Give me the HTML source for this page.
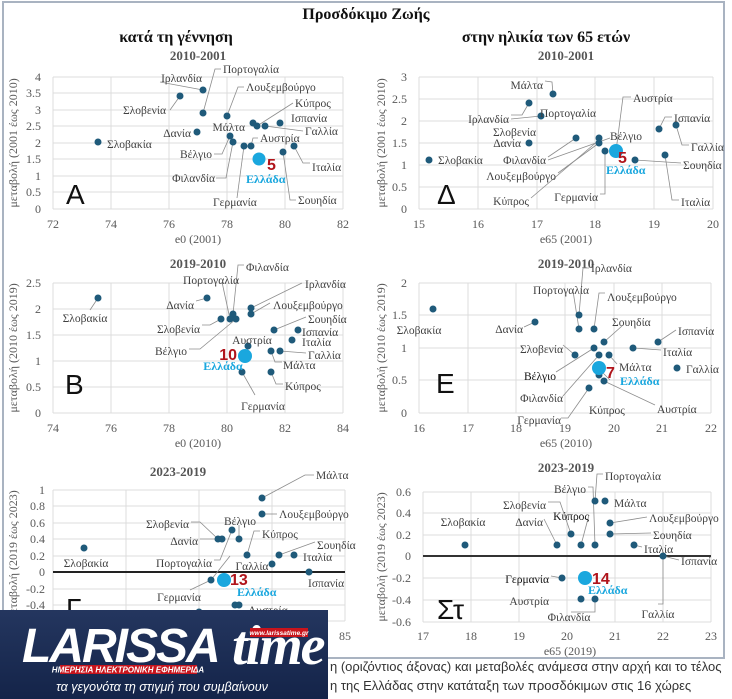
<!DOCTYPE html>
<html><head><meta charset="utf-8">
<style>
html,body{margin:0;padding:0;background:#fff;}
svg{display:block;}
.t{font-family:"Liberation Serif",serif;font-size:11.5px;fill:#404040;}
.k{font-family:"Liberation Serif",serif;font-size:12px;fill:#595959;}
.h{font-family:"Liberation Serif",serif;font-weight:bold;fill:#111;}
.st{font-family:"Liberation Serif",serif;font-weight:bold;font-size:13px;fill:#555;}
.g{stroke:#dcdcdc;stroke-width:1;}
.d{fill:#1f5a7a;}
.gr{fill:#1aa7de;}
.n{font-family:"Liberation Sans",sans-serif;font-weight:bold;font-size:16px;fill:#b0141b;}
.el{font-family:"Liberation Serif",serif;font-weight:bold;font-size:12px;fill:#1aa7de;}
.big{font-family:"Liberation Sans",sans-serif;font-size:28px;fill:#111;}
.l{stroke:#8c8c8c;stroke-width:0.8;fill:none;}
.cap{font-family:"Liberation Sans",sans-serif;font-size:13px;fill:#333;}
</style></head><body>
<svg width="732" height="699" viewBox="0 0 732 699" xmlns="http://www.w3.org/2000/svg">
<rect x="3" y="2" width="721" height="656" fill="#fff" stroke="#a9b3c1" stroke-width="2"/>
<text x="366" y="19" text-anchor="middle" class="h" font-size="16">Προσδόκιμο Ζωής</text>
<text x="176" y="42" text-anchor="middle" class="h" font-size="16">κατά τη γέννηση</text>
<text x="546" y="42" text-anchor="middle" class="h" font-size="16">στην ηλικία των 65 ετών</text>

<!-- ===== Panel A ===== -->
<text x="198" y="60" text-anchor="middle" class="st">2010-2001</text>
<g class="g">
<line x1="53" y1="77" x2="343" y2="77"/><line x1="53" y1="93" x2="343" y2="93"/><line x1="53" y1="110" x2="343" y2="110"/><line x1="53" y1="126" x2="343" y2="126"/><line x1="53" y1="143" x2="343" y2="143"/><line x1="53" y1="159" x2="343" y2="159"/><line x1="53" y1="176" x2="343" y2="176"/><line x1="53" y1="192" x2="343" y2="192"/><line x1="53" y1="209" x2="343" y2="209"/>
<line x1="53" y1="77" x2="53" y2="209"/><line x1="111" y1="77" x2="111" y2="209"/><line x1="169" y1="77" x2="169" y2="209"/><line x1="227" y1="77" x2="227" y2="209"/><line x1="285" y1="77" x2="285" y2="209"/><line x1="343" y1="77" x2="343" y2="209"/>
</g>
<g class="k" text-anchor="end"><text x="41" y="81">4</text><text x="41" y="97">3.5</text><text x="41" y="114">3</text><text x="41" y="130">2.5</text><text x="41" y="147">2</text><text x="41" y="163">1.5</text><text x="41" y="180">1</text><text x="41" y="196">0.5</text><text x="41" y="213">0</text></g>
<g class="k" text-anchor="middle"><text x="53" y="228">72</text><text x="111" y="228">74</text><text x="169" y="228">76</text><text x="227" y="228">78</text><text x="285" y="228">80</text><text x="343" y="228">82</text></g>
<text x="198" y="243" text-anchor="middle" class="k">e0 (2001)</text>
<text transform="translate(17,143) rotate(-90)" text-anchor="middle" class="k" font-size="11">μεταβολή (2001 έως 2010)</text>
<g class="l"><path d="M170 110 L180 96"/><path d="M160 82 L203 90"/><path d="M221 69 L215 69 L203 113"/><path d="M244 87 L238 87 L227 116"/><path d="M293 103 L257 126"/><path d="M303 131 L265 126"/><path d="M214 154 L222 154 L230 136"/><path d="M216 178 L226 178 L233 142"/><path d="M237 198 L244 146"/><path d="M258 138 L253 138 L251 146"/><path d="M310 163 L303 163 L294 146"/><path d="M296 200 L290 200 L283 152"/></g>
<g class="d"><circle cx="98" cy="142" r="3.5"/><circle cx="180" cy="96" r="3.5"/><circle cx="203" cy="90" r="3.5"/><circle cx="203" cy="113" r="3.5"/><circle cx="197" cy="132" r="3.5"/><circle cx="227" cy="116" r="3.5"/><circle cx="253" cy="123" r="3.5"/><circle cx="257" cy="126" r="3.5"/><circle cx="280" cy="123" r="3.5"/><circle cx="265" cy="126" r="3.5"/><circle cx="230" cy="136" r="3.5"/><circle cx="233" cy="142" r="3.5"/><circle cx="244" cy="146" r="3.5"/><circle cx="251" cy="146" r="3.5"/><circle cx="294" cy="146" r="3.5"/><circle cx="283" cy="152" r="3.5"/></g>
<circle cx="259" cy="159" r="6.5" class="gr"/>
<g class="t"><text x="107" y="148">Σλοβακία</text><text x="202" y="82" text-anchor="end">Ιρλανδία</text><text x="223" y="73">Πορτογαλία</text><text x="246" y="91">Λουξεμβούργο</text><text x="295" y="107">Κύπρος</text><text x="291" y="122">Ισπανία</text><text x="305" y="135">Γαλλία</text><text x="245" y="131" text-anchor="end">Μάλτα</text><text x="166" y="114" text-anchor="end">Σλοβενία</text><text x="191" y="137" text-anchor="end">Δανία</text><text x="260" y="142">Αυστρία</text><text x="212" y="158" text-anchor="end">Βέλγιο</text><text x="312" y="171">Ιταλία</text><text x="215" y="182" text-anchor="end">Φιλανδία</text><text x="213" y="206">Γερμανία</text><text x="298" y="204">Σουηδία</text></g>
<text x="267" y="170" class="n">5</text><text x="246" y="183" class="el">Ελλάδα</text>
<text x="66" y="204" class="big">A</text>

<!-- ===== Panel Δ ===== -->
<text x="566" y="60" text-anchor="middle" class="st">2010-2001</text>
<g class="g">
<line x1="419" y1="77" x2="713" y2="77"/><line x1="419" y1="99" x2="713" y2="99"/><line x1="419" y1="121" x2="713" y2="121"/><line x1="419" y1="143" x2="713" y2="143"/><line x1="419" y1="165" x2="713" y2="165"/><line x1="419" y1="187" x2="713" y2="187"/><line x1="419" y1="209" x2="713" y2="209"/>
<line x1="419" y1="77" x2="419" y2="209"/><line x1="478" y1="77" x2="478" y2="209"/><line x1="537" y1="77" x2="537" y2="209"/><line x1="595" y1="77" x2="595" y2="209"/><line x1="654" y1="77" x2="654" y2="209"/><line x1="713" y1="77" x2="713" y2="209"/>
</g>
<g class="k" text-anchor="end"><text x="407" y="81">3</text><text x="407" y="103">2.5</text><text x="407" y="125">2</text><text x="407" y="147">1.5</text><text x="407" y="169">1</text><text x="407" y="191">0.5</text><text x="407" y="213">0</text></g>
<g class="k" text-anchor="middle"><text x="419" y="228">15</text><text x="478" y="228">16</text><text x="537" y="228">17</text><text x="595" y="228">18</text><text x="654" y="228">19</text><text x="713" y="228">20</text></g>
<text x="566" y="243" text-anchor="middle" class="k">e65 (2001)</text>
<text transform="translate(385,143) rotate(-90)" text-anchor="middle" class="k" font-size="11">μεταβολή (2001 έως 2010)</text>
<g class="l"><path d="M545 81 L552 82 L553 94"/><path d="M511 115 L522 115 L529 103"/><path d="M511 119 L541 116"/><path d="M631 97 L623 97 L616 151"/><path d="M548 157 L576 138"/><path d="M548 160 L610 138"/><path d="M558 173 L599 143"/><path d="M531 198 L599 140"/><path d="M600 194 L605 194 L605 151"/><path d="M672 117 L665 117 L659 129"/><path d="M689 145 L682 145 L676 125"/><path d="M681 163 L635 160"/><path d="M679 200 L672 200 L665 155"/></g>
<g class="d"><circle cx="429" cy="160" r="3.5"/><circle cx="529" cy="103" r="3.5"/><circle cx="541" cy="116" r="3.5"/><circle cx="553" cy="94" r="3.5"/><circle cx="529" cy="143" r="3.5"/><circle cx="576" cy="138" r="3.5"/><circle cx="599" cy="138" r="3.5"/><circle cx="599" cy="143" r="3.5"/><circle cx="605" cy="151" r="3.5"/><circle cx="635" cy="160" r="3.5"/><circle cx="659" cy="129" r="3.5"/><circle cx="676" cy="125" r="3.5"/><circle cx="665" cy="155" r="3.5"/></g>
<circle cx="616" cy="151" r="7" class="gr"/>
<g class="t"><text x="543" y="89" text-anchor="end">Μάλτα</text><text x="633" y="102">Αυστρία</text><text x="568" y="117" text-anchor="middle">Πορτογαλία</text><text x="509" y="123" text-anchor="end">Ιρλανδία</text><text x="674" y="122">Ισπανία</text><text x="536" y="136" text-anchor="end">Σλοβενία</text><text x="521" y="147" text-anchor="end">Δανία</text><text x="610" y="140">Βέλγιο</text><text x="691" y="151">Γαλλία</text><text x="438" y="164">Σλοβακία</text><text x="546" y="164" text-anchor="end">Φιλανδία</text><text x="683" y="169">Σουηδία</text><text x="556" y="180" text-anchor="end">Λουξεμβούργο</text><text x="598" y="201" text-anchor="end">Γερμανία</text><text x="529" y="205" text-anchor="end">Κύπρος</text><text x="681" y="206">Ιταλία</text></g>
<text x="618" y="163" class="n">5</text><text x="606" y="174" class="el">Ελλάδα</text>
<text x="437" y="204" class="big">Δ</text>

<!-- ===== Panel B ===== -->
<text x="198" y="268" text-anchor="middle" class="st">2019-2010</text>
<g class="g">
<line x1="53" y1="283" x2="343" y2="283"/><line x1="53" y1="309" x2="343" y2="309"/><line x1="53" y1="335" x2="343" y2="335"/><line x1="53" y1="361" x2="343" y2="361"/><line x1="53" y1="387" x2="343" y2="387"/><line x1="53" y1="413" x2="343" y2="413"/>
<line x1="53" y1="283" x2="53" y2="413"/><line x1="111" y1="283" x2="111" y2="413"/><line x1="169" y1="283" x2="169" y2="413"/><line x1="227" y1="283" x2="227" y2="413"/><line x1="285" y1="283" x2="285" y2="413"/><line x1="343" y1="283" x2="343" y2="413"/>
</g>
<g class="k" text-anchor="end"><text x="41" y="287">2.5</text><text x="41" y="313">2</text><text x="41" y="339">1.5</text><text x="41" y="365">1</text><text x="41" y="391">0.5</text><text x="41" y="417">0</text></g>
<g class="k" text-anchor="middle"><text x="53" y="432">74</text><text x="111" y="432">76</text><text x="169" y="432">78</text><text x="227" y="432">80</text><text x="285" y="432">82</text><text x="343" y="432">84</text></g>
<text x="198" y="447" text-anchor="middle" class="k">e0 (2010)</text>
<text transform="translate(17,348) rotate(-90)" text-anchor="middle" class="k" font-size="11">μεταβολή (2010 έως 2019)</text>
<g class="l"><path d="M90 310 L98 298"/><path d="M196 301 L207 298"/><path d="M244 265 L238 265 L233 314"/><path d="M222 282 L230 319"/><path d="M302 283 L251 308"/><path d="M270 303 L251 314"/><path d="M306 317 L274 330"/><path d="M202 325 L210 325 L221 319"/><path d="M189 349 L200 349 L236 319"/><path d="M306 353 L280 351"/><path d="M282 362 L275 362 L271 351"/><path d="M283 384 L276 384 L271 372"/><path d="M255 395 L242 372"/></g>
<g class="d"><circle cx="98" cy="298" r="3.5"/><circle cx="207" cy="298" r="3.5"/><circle cx="221" cy="319" r="3.5"/><circle cx="230" cy="319" r="3.5"/><circle cx="233" cy="314" r="3.5"/><circle cx="236" cy="319" r="3.5"/><circle cx="251" cy="308" r="3.5"/><circle cx="251" cy="314" r="3.5"/><circle cx="274" cy="330" r="3.5"/><circle cx="298" cy="330" r="3.5"/><circle cx="292" cy="340" r="3.5"/><circle cx="248" cy="346" r="3.5"/><circle cx="271" cy="351" r="3.5"/><circle cx="280" cy="351" r="3.5"/><circle cx="242" cy="372" r="3.5"/><circle cx="271" cy="372" r="3.5"/></g>
<circle cx="245" cy="356" r="7" class="gr"/>
<g class="t"><text x="246" y="271">Φιλανδία</text><text x="211" y="284" text-anchor="middle">Πορτογαλία</text><text x="305" y="288">Ιρλανδία</text><text x="194" y="309" text-anchor="end">Δανία</text><text x="85" y="322" text-anchor="middle">Σλοβακία</text><text x="273" y="309">Λουξεμβούργο</text><text x="308" y="323">Σουηδία</text><text x="200" y="333" text-anchor="end">Σλοβενία</text><text x="302" y="336">Ισπανία</text><text x="302" y="346">Ιταλία</text><text x="252" y="344" text-anchor="middle">Αυστρία</text><text x="187" y="355" text-anchor="end">Βέλγιο</text><text x="308" y="359">Γαλλία</text><text x="283" y="369">Μάλτα</text><text x="285" y="390">Κύπρος</text><text x="263" y="410" text-anchor="middle">Γερμανία</text></g>
<text x="237" y="360" class="n" text-anchor="end">10</text><text x="223" y="370" class="el" text-anchor="middle">Ελλάδα</text>
<text x="65" y="394" class="big">B</text>

<!-- ===== Panel E ===== -->
<text x="566" y="268" text-anchor="middle" class="st">2019-2010</text>
<g class="g">
<line x1="419" y1="283" x2="711" y2="283"/><line x1="419" y1="315" x2="711" y2="315"/><line x1="419" y1="348" x2="711" y2="348"/><line x1="419" y1="380" x2="711" y2="380"/><line x1="419" y1="413" x2="711" y2="413"/>
<line x1="419" y1="283" x2="419" y2="413"/><line x1="468" y1="283" x2="468" y2="413"/><line x1="516" y1="283" x2="516" y2="413"/><line x1="565" y1="283" x2="565" y2="413"/><line x1="614" y1="283" x2="614" y2="413"/><line x1="662" y1="283" x2="662" y2="413"/><line x1="711" y1="283" x2="711" y2="413"/>
</g>
<g class="k" text-anchor="end"><text x="407" y="287">2</text><text x="407" y="319">1.5</text><text x="407" y="352">1</text><text x="407" y="384">0.5</text><text x="407" y="417">0</text></g>
<g class="k" text-anchor="middle"><text x="419" y="432">16</text><text x="468" y="432">17</text><text x="516" y="432">18</text><text x="565" y="432">19</text><text x="614" y="432">20</text><text x="662" y="432">21</text><text x="711" y="432">22</text></g>
<text x="566" y="447" text-anchor="middle" class="k">e65 (2010)</text>
<text transform="translate(385,348) rotate(-90)" text-anchor="middle" class="k" font-size="11">μεταβολή (2010 έως 2019)</text>
<g class="l"><path d="M589 268 L583 268 L579 315"/><path d="M573 291 L579 329"/><path d="M605 293 L599 293 L594 329"/><path d="M622 326 L604 342"/><path d="M524 327 L535 322"/><path d="M676 330 L658 342"/><path d="M563 345 L575 355"/><path d="M661 350 L633 348"/><path d="M617 364 L609 355"/><path d="M556 372 L594 348"/><path d="M563 396 L599 355"/><path d="M655 405 L604 381"/><path d="M561 418 L568 418 L589 388"/><path d="M601 371 L610 380"/></g>
<g class="d"><circle cx="433" cy="309" r="3.5"/><circle cx="535" cy="322" r="3.5"/><circle cx="579" cy="315" r="3.5"/><circle cx="579" cy="329" r="3.5"/><circle cx="594" cy="329" r="3.5"/><circle cx="604" cy="342" r="3.5"/><circle cx="658" cy="342" r="3.5"/><circle cx="575" cy="355" r="3.5"/><circle cx="594" cy="348" r="3.5"/><circle cx="599" cy="355" r="3.5"/><circle cx="609" cy="355" r="3.5"/><circle cx="633" cy="348" r="3.5"/><circle cx="677" cy="368" r="3.5"/><circle cx="599" cy="375" r="3.5"/><circle cx="604" cy="381" r="3.5"/><circle cx="589" cy="388" r="3.5"/></g>
<circle cx="599" cy="368" r="7" class="gr"/>
<g class="t"><text x="591" y="272">Ιρλανδία</text><text x="589" y="294" text-anchor="end">Πορτογαλία</text><text x="607" y="301">Λουξεμβούργο</text><text x="612" y="326">Σουηδία</text><text x="419" y="334" text-anchor="middle">Σλοβακία</text><text x="523" y="333" text-anchor="end">Δανία</text><text x="678" y="335">Ισπανία</text><text x="563" y="353" text-anchor="end">Σλοβενία</text><text x="663" y="356">Ιταλία</text><text x="619" y="371">Μάλτα</text><text x="686" y="373">Γαλλία</text><text x="556" y="380" text-anchor="end" fill="#111">Βέλγιο</text><text x="563" y="402" text-anchor="end">Φιλανδία</text><text x="657" y="413">Αυστρία</text><text x="589" y="414">Κύπρος</text><text x="561" y="424" text-anchor="end">Γερμανία</text></g>
<text x="606" y="378" class="n">7</text><text x="620" y="385" class="el">Ελλάδα</text>
<text x="436" y="393" class="big">E</text>

<!-- ===== Panel Γ ===== -->
<text x="178" y="476" text-anchor="middle" class="st">2023-2019</text>
<g class="g">
<line x1="53" y1="490" x2="345" y2="490"/><line x1="53" y1="506" x2="345" y2="506"/><line x1="53" y1="523" x2="345" y2="523"/><line x1="53" y1="539" x2="345" y2="539"/><line x1="53" y1="556" x2="345" y2="556"/><line x1="53" y1="589" x2="345" y2="589"/><line x1="53" y1="605" x2="345" y2="605"/><line x1="53" y1="621" x2="345" y2="621"/>
<line x1="53" y1="490" x2="53" y2="621"/><line x1="126" y1="490" x2="126" y2="621"/><line x1="199" y1="490" x2="199" y2="621"/><line x1="272" y1="490" x2="272" y2="621"/><line x1="345" y1="490" x2="345" y2="621"/>
</g>
<line x1="53" y1="572" x2="345" y2="572" stroke="#222" stroke-width="2"/>
<g class="k" text-anchor="end"><text x="45" y="494">1</text><text x="45" y="510">0.8</text><text x="45" y="527">0.6</text><text x="45" y="543">0.4</text><text x="45" y="560">0.2</text><text x="45" y="576">0</text><text x="45" y="593">-0.2</text><text x="45" y="609">-0.4</text></g>
<text x="345" y="640" text-anchor="middle" class="k">85</text>
<text transform="translate(17,555) rotate(-90)" text-anchor="middle" class="k" font-size="11">μεταβολή (2019 έως 2023)</text>
<g class="l"><path d="M314 475 L305 475 L262 498"/><path d="M277 514 L262 514"/><path d="M191 522 L200 522 L218 539"/><path d="M239 525 L239 539"/><path d="M260 531 L254 531 L247 555"/><path d="M315 542 L279 555"/><path d="M200 539 L218 539"/><path d="M214 560 L220 560 L232 530"/><path d="M230 556 L211 580"/><path d="M190 590 L211 580"/></g>
<g class="d"><circle cx="84" cy="548" r="3.5"/><circle cx="262" cy="498" r="3.5"/><circle cx="262" cy="514" r="3.5"/><circle cx="232" cy="530" r="3.5"/><circle cx="218" cy="539" r="3.5"/><circle cx="222" cy="539" r="3.5"/><circle cx="239" cy="539" r="3.5"/><circle cx="247" cy="555" r="3.5"/><circle cx="272" cy="564" r="3.5"/><circle cx="279" cy="555" r="3.5"/><circle cx="294" cy="555" r="3.5"/><circle cx="309" cy="572" r="3.5"/><circle cx="211" cy="580" r="3.5"/><circle cx="235" cy="605" r="3.5"/><circle cx="239" cy="605" r="3.5"/><circle cx="199" cy="612" r="3.5"/></g>
<circle cx="224" cy="580" r="7" class="gr"/>
<g class="t"><text x="316" y="479">Μάλτα</text><text x="279" y="518">Λουξεμβούργο</text><text x="189" y="528" text-anchor="end">Σλοβενία</text><text x="240" y="525" text-anchor="middle">Βέλγιο</text><text x="262" y="538">Κύπρος</text><text x="317" y="549">Σουηδία</text><text x="198" y="545" text-anchor="end">Δανία</text><text x="303" y="561">Ιταλία</text><text x="86" y="567" text-anchor="middle">Σλοβακία</text><text x="212" y="567" text-anchor="end">Πορτογαλία</text><text x="252" y="570" text-anchor="middle">Γαλλία</text><text x="308" y="587">Ισπανία</text><text x="179" y="601" text-anchor="middle">Γερμανία</text><text x="248" y="614">Αυστρία</text></g>
<text x="230" y="585" class="n">13</text><text x="237" y="596" class="el">Ελλάδα</text>
<text x="66" y="618" class="big">Γ</text>

<!-- ===== Panel ΣΤ ===== -->
<text x="566" y="472" text-anchor="middle" class="st">2023-2019</text>
<g class="g">
<line x1="423" y1="492" x2="711" y2="492"/><line x1="423" y1="513" x2="711" y2="513"/><line x1="423" y1="535" x2="711" y2="535"/><line x1="423" y1="578" x2="711" y2="578"/><line x1="423" y1="600" x2="711" y2="600"/><line x1="423" y1="622" x2="711" y2="622"/>
<line x1="423" y1="492" x2="423" y2="622"/><line x1="471" y1="492" x2="471" y2="622"/><line x1="519" y1="492" x2="519" y2="622"/><line x1="567" y1="492" x2="567" y2="622"/><line x1="615" y1="492" x2="615" y2="622"/><line x1="663" y1="492" x2="663" y2="622"/><line x1="711" y1="492" x2="711" y2="622"/>
</g>
<line x1="423" y1="556" x2="711" y2="556" stroke="#333" stroke-width="2"/>
<g class="k" text-anchor="end"><text x="411" y="496">0.6</text><text x="411" y="517">0.4</text><text x="411" y="539">0.2</text><text x="411" y="560">0</text><text x="411" y="582">-0.2</text><text x="411" y="604">-0.4</text><text x="411" y="626">-0.6</text></g>
<g class="k" text-anchor="middle"><text x="423" y="640">17</text><text x="471" y="640">18</text><text x="519" y="640">19</text><text x="567" y="640">20</text><text x="615" y="640">21</text><text x="663" y="640">22</text><text x="711" y="640">23</text></g>
<text x="570" y="655" text-anchor="middle" class="k">e65 (2019)</text>
<text transform="translate(385,557) rotate(-90)" text-anchor="middle" class="k" font-size="11">μεταβολή (2019 έως 2023)</text>
<g class="l"><path d="M603 474 L597 474 L595 501"/><path d="M588 487 L593 487 L595 545"/><path d="M548 502 L560 502 L571 534"/><path d="M589 515 L581 545"/><path d="M544 519 L557 545"/><path d="M647 517 L610 523"/><path d="M651 533 L610 534"/><path d="M642 547 L634 545"/><path d="M679 560 L663 556"/><path d="M551 576 L562 578"/><path d="M658 604 L663 604 L663 556"/><path d="M571 612 L595 612 L595 599"/></g>
<g class="d"><circle cx="465" cy="545" r="3.5"/><circle cx="557" cy="545" r="3.5"/><circle cx="571" cy="534" r="3.5"/><circle cx="581" cy="545" r="3.5"/><circle cx="595" cy="545" r="3.5"/><circle cx="595" cy="501" r="3.5"/><circle cx="605" cy="501" r="3.5"/><circle cx="610" cy="523" r="3.5"/><circle cx="610" cy="534" r="3.5"/><circle cx="634" cy="545" r="3.5"/><circle cx="663" cy="556" r="3.5"/><circle cx="562" cy="578" r="3.5"/><circle cx="581" cy="599" r="3.5"/><circle cx="595" cy="599" r="3.5"/></g>
<circle cx="585" cy="578" r="7" class="gr"/>
<g class="t"><text x="605" y="480">Πορτογαλία</text><text x="586" y="493" text-anchor="end">Βέλγιο</text><text x="614" y="507">Μάλτα</text><text x="546" y="509" text-anchor="end">Σλοβενία</text><text x="589" y="520" text-anchor="end" fill="#111">Κύπρος</text><text x="463" y="526" text-anchor="middle">Σλοβακία</text><text x="543" y="526" text-anchor="end">Δανία</text><text x="649" y="522">Λουξεμβούργο</text><text x="653" y="539">Σουηδία</text><text x="644" y="553">Ιταλία</text><text x="681" y="565">Ισπανία</text><text x="549" y="583" text-anchor="end" fill="#111">Γερμανία</text><text x="549" y="605" text-anchor="end">Αυστρία</text><text x="658" y="618" text-anchor="middle">Γαλλία</text><text x="569" y="621" text-anchor="middle">Φιλανδία</text></g>
<text x="592" y="584" class="n">14</text><text x="588" y="594" class="el">Ελλάδα</text>
<text x="437" y="619" class="big">Στ</text>

<!-- caption -->
<text x="330" y="671" class="cap">η (οριζόντιος άξονας) και μεταβολές ανάμεσα στην αρχή και το τέλος</text>
<text x="330" y="690" class="cap">η της Ελλάδας στην κατάταξη των προσδόκιμων στις 16 χώρες</text>

<!-- logo -->
<defs><linearGradient id="lg" x1="0" y1="0" x2="0" y2="1"><stop offset="0" stop-color="#24365f"/><stop offset="1" stop-color="#142449"/></linearGradient></defs>
<rect x="0" y="610" width="328" height="89" fill="url(#lg)"/>
<text x="22" y="662" font-family="Liberation Sans,sans-serif" font-weight="bold" font-style="italic" font-size="48" fill="#fff" letter-spacing="-2">LARISSA</text>
<text x="232" y="664" font-family="Liberation Serif,serif" font-weight="bold" font-style="italic" font-size="56" fill="#fff" letter-spacing="-2">time</text>
<rect x="250" y="628" width="58" height="9" fill="#c8141c"/>
<text x="279" y="635" text-anchor="middle" font-family="Liberation Sans,sans-serif" font-style="italic" font-weight="bold" font-size="6.5" fill="#fff">www.larissatime.gr</text>
<rect x="60" y="665" width="137" height="9" fill="#c8141c"/>
<text x="128" y="672.5" text-anchor="middle" font-family="Liberation Sans,sans-serif" font-style="italic" font-weight="bold" font-size="8" fill="#fff">ΗΜΕΡΗΣΙΑ ΗΛΕΚΤΡΟΝΙΚΗ ΕΦΗΜΕΡΙΔΑ</text>
<text x="162" y="691" text-anchor="middle" font-family="Liberation Sans,sans-serif" font-style="italic" font-size="12.5" fill="#fff">τα γεγονότα τη στιγμή που συμβαίνουν</text>
</svg>
</body></html>
